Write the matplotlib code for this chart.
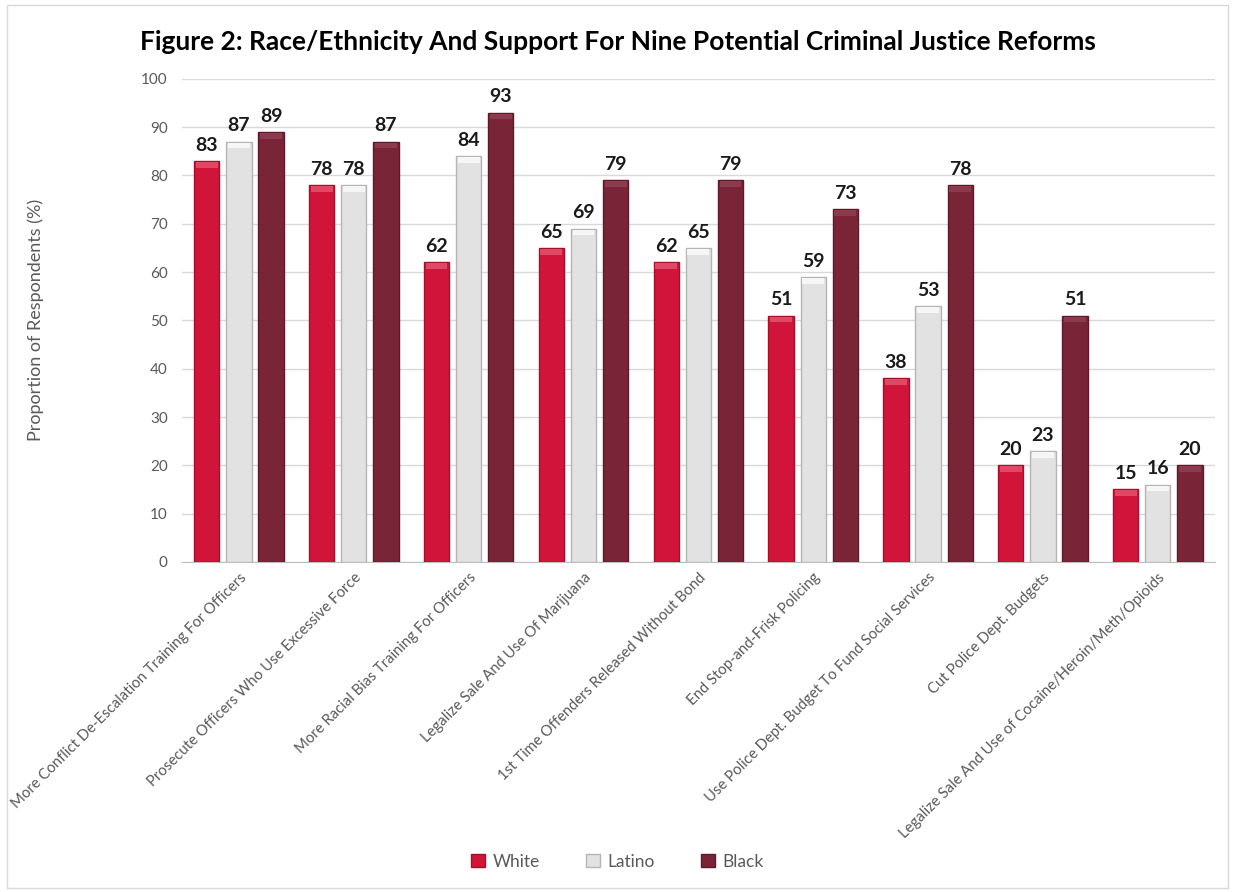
import matplotlib
matplotlib.use("Agg")
import matplotlib.pyplot as plt
import numpy as np
from matplotlib.patches import Rectangle

categories = [
    "More Conflict De-Escalation Training For Officers",
    "Prosecute Officers Who Use Excessive Force",
    "More Racial Bias Training For Officers",
    "Legalize Sale And Use Of Marijuana",
    "1st Time Offenders Released Without Bond",
    "End Stop-and-Frisk Policing",
    "Use Police Dept. Budget To Fund Social Services",
    "Cut Police Dept. Budgets",
    "Legalize Sale And Use of Cocaine/Heroin/Meth/Opioids",
]
white = [83, 78, 62, 65, 62, 51, 38, 20, 15]
latino = [87, 78, 84, 69, 65, 59, 53, 23, 16]
black = [89, 87, 93, 79, 79, 73, 78, 51, 20]
series_names = ["White", "Latino", "Black"]
yticks = list(range(0, 101, 10))

colors = ["#D0143A", "#E2E2E2", "#7A2438"]
edges = ["#A80E2C", "#B5B5B5", "#5E1A2A"]
highlights = ["#DE4A63", "#F6F6F6", "#8C3A4D"]

plt.rcParams['font.family'] = ['Lato', 'DejaVu Sans']

fig = plt.figure(figsize=(12.35, 8.92), dpi=100)
ax = fig.add_axes([0.147, 0.370, 0.837, 0.5416])

x = np.arange(len(categories))
width = 0.22
offsets = [-0.28, 0.0, 0.28]
for vals, off, c, ec, hc, name in zip([white, latino, black], offsets, colors, edges, highlights, series_names):
    ax.bar(x + off, vals, width, color=c, edgecolor=ec, linewidth=1.0, label=name, zorder=3)
    # bevel highlight on top
    for xi, v in zip(x + off, vals):
        ax.add_patch(Rectangle((xi - width / 2 + 0.015, v - 1.4), width - 0.03, 1.2,
                               color=hc, zorder=4, linewidth=0))
    for xi, v in zip(x + off, vals):
        ax.text(xi, v + 1.5, str(v), ha='center', va='bottom', fontsize=14,
                fontweight='bold', color='#1a1a1a', zorder=5)

ax.set_xlim(-0.5, len(categories) - 0.5)
ax.set_ylim(0, 100)
ax.set_yticks(yticks)
ax.set_yticklabels([str(t) for t in yticks], fontsize=11, color='#595959')
ax.yaxis.grid(True, color='#D9D9D9', linewidth=1, zorder=0)
ax.set_axisbelow(True)
for s in ['top', 'right', 'left']:
    ax.spines[s].set_visible(False)
ax.spines['bottom'].set_color('#BFBFBF')
ax.tick_params(axis='y', length=0, pad=10)
ax.tick_params(axis='x', length=0, pad=6)
ax.set_xticks(x)
ax.set_xticklabels(categories, rotation=45, ha='right', rotation_mode='anchor',
                   fontsize=10.7, color='#595959')
ax.set_ylabel("Proportion of Respondents (%)", fontsize=13, color='#595959')
ax.yaxis.set_label_coords(-0.133, 0.5)

fig.text(0.5, 0.953, "Figure 2: Race/Ethnicity And Support For Nine Potential Criminal Justice Reforms",
         ha='center', va='center', fontsize=19, fontweight='bold', color='#000000')

handles = [Rectangle((0, 0), 1, 1, facecolor=c, edgecolor=ec) for c, ec in zip(colors, edges)]
fig.legend(handles, series_names, loc='center', bbox_to_anchor=(0.5, 0.034), ncol=3,
           frameon=False, fontsize=12.5, handlelength=0.8, handleheight=0.8,
           columnspacing=2.7, handletextpad=0.4, labelcolor='#595959')

fig.add_artist(Rectangle((0.006, 0.004), 0.988, 0.99, transform=fig.transFigure,
                         fill=False, edgecolor='#D9D9D9', linewidth=1))

fig.savefig("out.png", dpi=100)
